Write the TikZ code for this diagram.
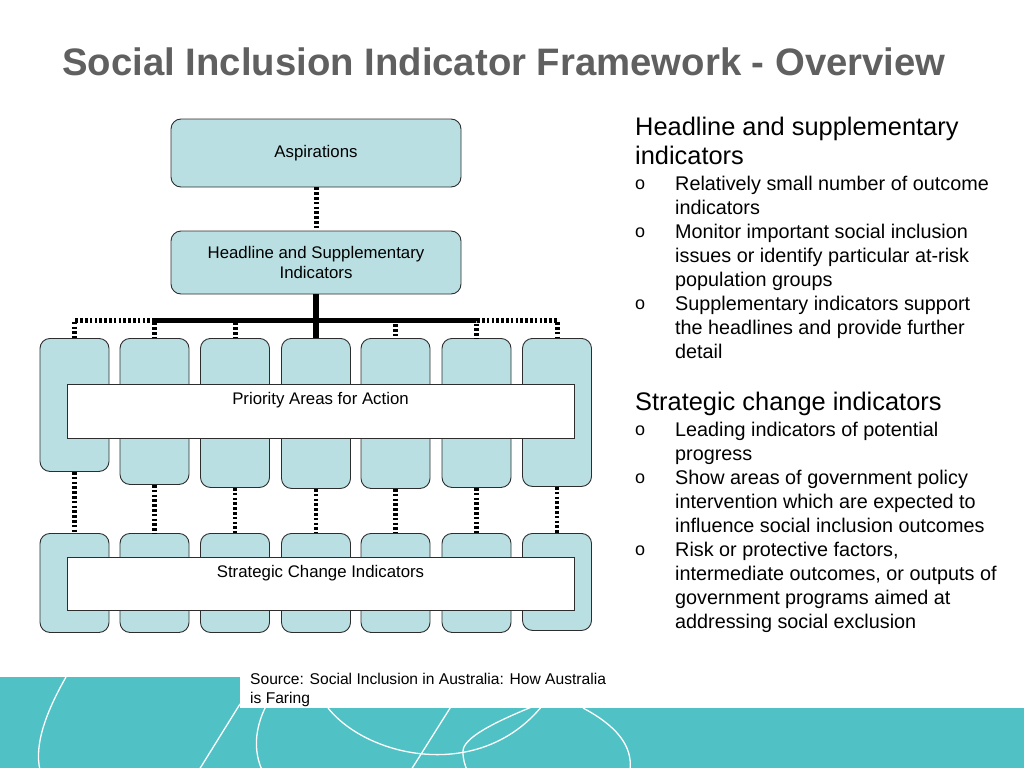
\documentclass[tikz,border=0pt]{standalone}
\usepackage{fontspec}
\setmainfont{Liberation Sans}
\definecolor{boxfill}{RGB}{185,223,226}
\definecolor{bandteal}{RGB}{80,194,197}
\definecolor{titlegray}{RGB}{96,96,96}
\definecolor{edgegray}{RGB}{45,45,45}
\begin{document}
\begin{tikzpicture}[x=1pt,y=-1pt,
  bigbox/.style={draw=edgegray, line width=0.9pt, fill=boxfill, rounded corners=10pt,
    inner sep=0pt, align=center, minimum width=290pt, font=\fontsize{16.8}{20}\selectfont},
  colbox/.style={draw=edgegray, line width=0.9pt, fill=boxfill, rounded corners=10pt,
    minimum width=69pt, inner sep=0pt, anchor=north},
  widebox/.style={draw=edgegray, line width=0.8pt, fill=white, minimum width=507pt,
    inner sep=0pt},
  boxtext/.style={font=\fontsize{16.8}{20}\selectfont, inner sep=0pt},
  conn/.style={line width=5pt, dash pattern=on 2.6pt off 2.2pt},
  mainconn/.style={line width=6pt},
  headtext/.style={font=\fontsize{25.4}{29}\selectfont, anchor=base west, inner sep=0pt},
  bodytext/.style={font=\fontsize{19.8}{24}\selectfont, anchor=base west, inner sep=0pt},
  bulletmark/.style={font=\fontsize{18}{20}\selectfont, anchor=base, inner sep=0pt},
  curve/.style={draw=white, line width=1.3pt}
]
\useasboundingbox (0,0) rectangle (1024,768);

% title
\node[font=\fontsize{38.3}{44}\selectfont\bfseries, text=titlegray, inner sep=0pt]
  (title) at (504,62) {Social Inclusion Indicator Framework - Overview};

% top boxes
\node[bigbox, minimum height=68pt] (asp) at (316,153) {\raisebox{-1.5pt}{Aspirations}};
\node[bigbox, minimum height=63pt] (hs) at (316,262.5) {Headline and Supplementary\\Indicators};
\draw[conn] (asp) -- (hs);

% upper column boxes
\node[colbox, minimum height=133pt] (c1) at (74.5,338) {};
\node[colbox, minimum height=146pt] (c2) at (154.5,338) {};
\node[colbox, minimum height=149pt] (c3) at (235,338) {};
\node[colbox, minimum height=150pt] (c4) at (316,338) {};
\node[colbox, minimum height=150pt] (c5) at (395.5,338) {};
\node[colbox, minimum height=149pt] (c6) at (476.5,338) {};
\node[colbox, minimum height=148pt] (c7) at (557,338) {};

% lower column boxes
\node[colbox, minimum height=99pt] (d1) at (74.5,533) {};
\node[colbox, minimum height=99pt] (d2) at (154.5,533) {};
\node[colbox, minimum height=99pt] (d3) at (235,533) {};
\node[colbox, minimum height=99pt] (d4) at (316,533) {};
\node[colbox, minimum height=99pt] (d5) at (395.5,533) {};
\node[colbox, minimum height=99pt] (d6) at (476.5,533) {};
\node[colbox, minimum height=97pt] (d7) at (557,533) {};

% connectors headline -> columns
\draw[conn, dash phase=0pt] (hs.south) -- ++(0,26) -| (c1.north);
\draw[conn, dash phase=2.4pt] (hs.south) -- ++(0,26) -| (c2.north);
\draw[conn, dash phase=1.2pt] (hs.south) -- ++(0,26) -| (c3.north);
\draw[conn, dash phase=1.2pt] (hs.south) -- ++(0,26) -| (c5.north);
\draw[conn, dash phase=2.4pt] (hs.south) -- ++(0,26) -| (c6.north);
\draw[conn, dash phase=0pt] (hs.south) -- ++(0,26) -| (c7.north);
\draw[mainconn] (hs.south) -- (c4.north);

% connectors columns -> lower columns
\foreach \i in {1,...,7} {
  \draw[conn, line width=4.5pt] (c\i.south) -- (d\i.north);
}

% wide white boxes
\node[widebox, minimum height=54pt] (pa) at (320.5,411) {};
\node[boxtext] (patext) at ([yshift=-17pt]pa.north) {Priority Areas for Action};
\node[widebox, minimum height=53pt] (sc) at (320.5,583.5) {};
\node[boxtext] (sctext) at ([yshift=-17pt]sc.north) {Strategic Change Indicators};

% right text
\node[headtext] (r1) at (635,135) {Headline and supplementary};
\node[headtext] (r2) at (635,164) {indicators};
\node[bulletmark] (o1) at (640,189) {o};
\node[bodytext] (r3) at (675,190) {Relatively small number of outcome};
\node[bodytext] (r4) at (675,214) {indicators};
\node[bulletmark] (o2) at (640,237) {o};
\node[bodytext] (r5) at (675,238) {Monitor important social inclusion};
\node[bodytext] (r6) at (675,262) {issues or identify particular at-risk};
\node[bodytext] (r7) at (675,286) {population groups};
\node[bulletmark] (o3) at (640,309) {o};
\node[bodytext] (r8) at (675,310) {Supplementary indicators support};
\node[bodytext] (r9) at (675,334) {the headlines and provide further};
\node[bodytext] (r10) at (675,358) {detail};

\node[headtext] (s1) at (635,410) {Strategic change indicators};
\node[bulletmark] (o4) at (640,435) {o};
\node[bodytext] (s2) at (675,436) {Leading indicators of potential};
\node[bodytext] (s3) at (675,460) {progress};
\node[bulletmark] (o5) at (640,483) {o};
\node[bodytext] (s4) at (675,484) {Show areas of government policy};
\node[bodytext] (s5) at (675,508) {intervention which are expected to};
\node[bodytext] (s6) at (675,532) {influence social inclusion outcomes};
\node[bulletmark] (o6) at (640,555) {o};
\node[bodytext] (s7) at (675,556) {Risk or protective factors,};
\node[bodytext] (s8) at (675,580) {intermediate outcomes, or outputs of};
\node[bodytext] (s9) at (675,604) {government programs aimed at};
\node[bodytext] (s10) at (675,628) {addressing social exclusion};

% bottom band
\fill[bandteal] (0,677) rectangle (1024,768);
\begin{scope}
  \clip (0,677) rectangle (1024,768);
  \draw[curve] (66,677) .. controls (46,712) and (34,745) .. (40,770);
  \draw[curve] (240,704) -- (199,770);
  \draw[curve] (266,706) .. controls (254,730) and (254,752) .. (262,770);
  \draw[curve] (328,708) .. controls (368,758) and (480,782) .. (542,706);
  \draw[curve] (452,705) -- (411,770);
  \draw[curve] (534,706) .. controls (495,722) and (462,738) .. (463,752)
               .. controls (463,760) and (465,765) .. (467,770);
  \draw[curve] (583,708) .. controls (615,725) and (633,745) .. (630,770);
\end{scope}
\fill[white] (240,677) rectangle (1024,708);
\node[font=\fontsize{15.6}{19}\selectfont, align=left, anchor=north west, inner sep=0pt]
  (src) at (250,673.2) {Source: Social Inclusion in Australia: How Australia\\is Faring};
\end{tikzpicture}
\end{document}
